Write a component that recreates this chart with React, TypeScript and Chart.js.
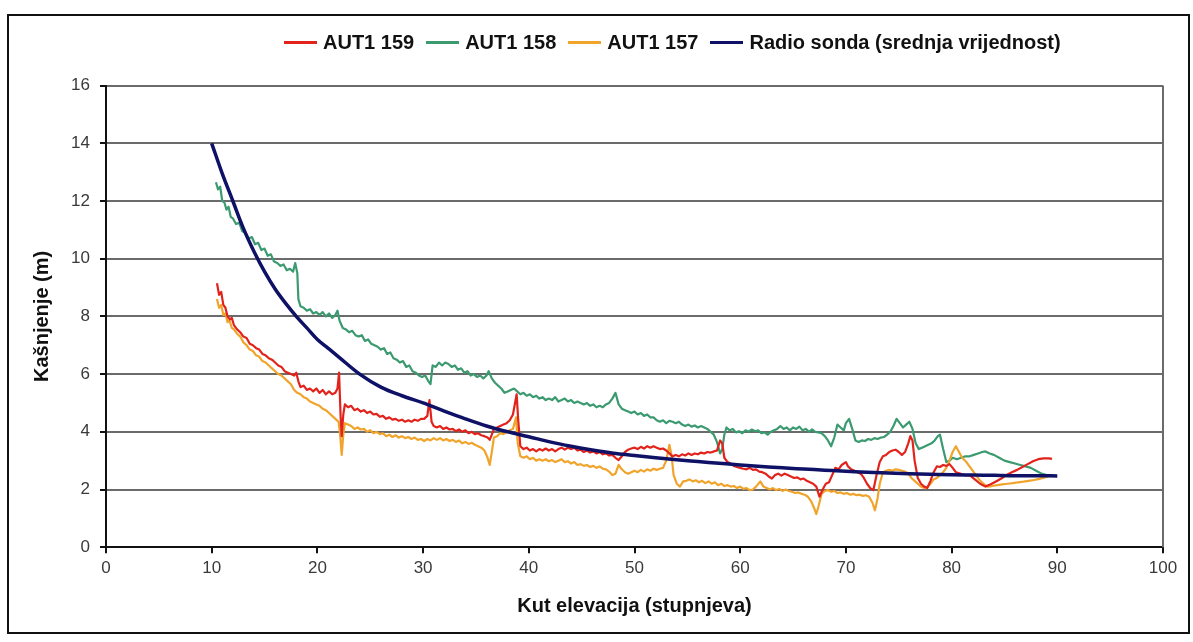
import React, { useEffect, useRef } from "react";
import { Chart, registerables } from "chart.js";

Chart.register(...registerables);

// ---- Data (x = elevation angle in degrees, y = delay in metres) ----
const AUT1_159: [number, number][] = [
  [10.5, 9.15], [10.7, 8.75], [10.9, 8.85], [11.1, 8.4], [11.3, 8.3], [11.5, 8.0], [11.7, 7.9], [11.9, 7.95],
  [12.1, 7.7], [12.4, 7.55], [12.7, 7.45], [13.0, 7.3], [13.3, 7.25], [13.6, 7.05], [13.9, 7.0], [14.2, 6.9],
  [14.5, 6.85], [14.8, 6.7], [15.1, 6.65], [15.4, 6.55], [15.7, 6.5], [16.0, 6.4], [16.3, 6.3], [16.6, 6.25],
  [16.9, 6.1], [17.2, 6.05], [17.5, 6.0], [17.8, 5.95], [18.0, 6.05], [18.2, 5.75], [18.4, 5.55], [18.7, 5.6],
  [19.0, 5.45], [19.3, 5.5], [19.6, 5.4], [19.9, 5.5], [20.2, 5.35], [20.5, 5.45], [20.8, 5.3], [21.1, 5.4],
  [21.4, 5.3], [21.7, 5.35], [21.9, 5.5], [22.05, 6.05], [22.2, 4.5], [22.3, 3.85], [22.45, 4.6], [22.6, 4.95],
  [22.9, 4.85], [23.2, 4.9], [23.5, 4.75], [23.8, 4.8], [24.1, 4.7], [24.4, 4.75], [24.7, 4.65], [25.0, 4.7],
  [25.3, 4.6], [25.6, 4.62], [25.9, 4.52], [26.2, 4.55], [26.5, 4.45], [26.8, 4.5], [27.1, 4.42], [27.4, 4.45],
  [27.7, 4.38], [28.0, 4.42], [28.3, 4.35], [28.6, 4.4], [28.9, 4.35], [29.2, 4.42], [29.5, 4.38], [29.8, 4.45],
  [30.1, 4.45], [30.4, 4.55], [30.6, 5.1], [30.8, 4.35], [31.0, 4.2], [31.3, 4.15], [31.6, 4.2], [31.9, 4.1],
  [32.2, 4.15], [32.5, 4.08], [32.8, 4.1], [33.1, 4.02], [33.4, 4.08], [33.7, 4.0], [34.0, 4.05], [34.3, 3.95],
  [34.6, 4.0], [34.9, 3.92], [35.2, 3.95], [35.5, 3.88], [35.8, 3.85], [36.1, 3.8], [36.3, 3.72], [36.5, 3.9],
  [36.7, 4.1], [37.0, 4.15], [37.3, 4.2], [37.6, 4.25], [37.9, 4.3], [38.2, 4.4], [38.5, 4.6], [38.7, 5.0],
  [38.85, 5.3], [39.0, 4.4], [39.2, 3.5], [39.5, 3.4], [39.8, 3.45], [40.1, 3.35], [40.4, 3.4], [40.7, 3.32],
  [41.0, 3.4], [41.3, 3.35], [41.6, 3.42], [41.9, 3.35], [42.2, 3.4], [42.5, 3.32], [42.8, 3.4], [43.1, 3.45],
  [43.4, 3.38], [43.7, 3.45], [44.0, 3.4], [44.3, 3.45], [44.6, 3.35], [44.9, 3.38], [45.2, 3.3], [45.5, 3.35],
  [45.8, 3.28], [46.1, 3.32], [46.4, 3.25], [46.7, 3.3], [47.0, 3.22], [47.3, 3.25], [47.6, 3.18], [47.9, 3.2],
  [48.2, 3.1], [48.5, 3.02], [48.8, 3.15], [49.1, 3.3], [49.4, 3.38], [49.7, 3.42], [50.0, 3.45], [50.3, 3.4],
  [50.6, 3.48], [50.9, 3.42], [51.2, 3.5], [51.5, 3.45], [51.8, 3.5], [52.1, 3.45], [52.4, 3.4], [52.7, 3.42],
  [53.0, 3.35], [53.3, 3.25], [53.6, 3.15], [53.9, 3.2], [54.2, 3.15], [54.5, 3.22], [54.8, 3.18], [55.1, 3.25],
  [55.4, 3.2], [55.7, 3.25], [56.0, 3.22], [56.3, 3.28], [56.6, 3.25], [56.9, 3.3], [57.2, 3.28], [57.5, 3.32],
  [57.8, 3.35], [58.1, 3.7], [58.3, 3.6], [58.5, 3.1], [58.8, 2.95], [59.1, 2.9], [59.4, 2.82], [59.7, 2.78],
  [60.0, 2.75], [60.3, 2.72], [60.6, 2.7], [60.9, 2.75], [61.2, 2.68], [61.5, 2.7], [61.8, 2.62], [62.1, 2.6],
  [62.4, 2.55], [62.7, 2.45], [63.0, 2.38], [63.3, 2.5], [63.6, 2.55], [63.9, 2.48], [64.2, 2.55], [64.5, 2.5],
  [64.8, 2.45], [65.1, 2.4], [65.4, 2.42], [65.7, 2.35], [66.0, 2.38], [66.3, 2.3], [66.6, 2.25], [66.9, 2.2],
  [67.2, 2.1], [67.5, 1.75], [67.8, 2.0], [68.1, 2.2], [68.4, 2.25], [68.7, 2.5], [69.0, 2.75], [69.3, 2.7],
  [69.6, 2.85], [70.0, 2.95], [70.2, 2.8], [70.5, 2.7], [70.8, 2.65], [71.1, 2.6], [71.4, 2.55], [71.7, 2.4],
  [72.0, 2.2], [72.3, 2.05], [72.6, 1.98], [72.9, 2.5], [73.2, 2.95], [73.5, 3.15], [73.8, 3.2], [74.1, 3.3],
  [74.4, 3.35], [74.7, 3.38], [75.0, 3.3], [75.3, 3.2], [75.6, 3.3], [75.9, 3.6], [76.1, 3.85], [76.3, 3.7],
  [76.5, 3.0], [76.8, 2.4], [77.1, 2.2], [77.4, 2.1], [77.7, 2.05], [78.0, 2.3], [78.3, 2.6], [78.6, 2.8],
  [78.9, 2.78], [79.2, 2.85], [79.5, 2.82], [79.8, 2.88], [80.1, 2.75], [80.4, 2.6], [80.8, 2.55], [81.2, 2.5],
  [81.7, 2.5], [82.2, 2.35], [82.7, 2.2], [83.2, 2.1], [83.7, 2.18], [84.2, 2.28], [84.7, 2.38], [85.2, 2.5],
  [85.7, 2.6], [86.2, 2.68], [86.7, 2.78], [87.2, 2.88], [87.7, 2.98], [88.2, 3.05], [88.7, 3.08], [89.2, 3.08],
  [89.5, 3.06],
];

const AUT1_158: [number, number][] = [
  [10.4, 12.65], [10.6, 12.4], [10.8, 12.5], [11.0, 12.0], [11.2, 11.95], [11.4, 11.7], [11.6, 11.8], [11.8, 11.45],
  [12.0, 11.4], [12.3, 11.2], [12.6, 11.25], [12.9, 10.95], [13.2, 10.9], [13.5, 10.7], [13.8, 10.75], [14.1, 10.5],
  [14.4, 10.55], [14.7, 10.3], [15.0, 10.35], [15.3, 10.1], [15.6, 10.15], [15.9, 9.9], [16.2, 9.85], [16.5, 9.75],
  [16.8, 9.8], [17.1, 9.6], [17.4, 9.65], [17.7, 9.55], [17.9, 9.85], [18.1, 9.5], [18.2, 8.6], [18.4, 8.35],
  [18.7, 8.3], [19.0, 8.2], [19.3, 8.25], [19.6, 8.1], [19.9, 8.15], [20.2, 8.05], [20.5, 8.15], [20.8, 8.0],
  [21.1, 8.1], [21.4, 7.95], [21.7, 8.05], [21.9, 8.2], [22.1, 7.85], [22.4, 7.6], [22.7, 7.55], [23.0, 7.45],
  [23.3, 7.5], [23.6, 7.35], [23.9, 7.3], [24.2, 7.35], [24.5, 7.15], [24.8, 7.2], [25.1, 7.05], [25.4, 7.0],
  [25.7, 6.95], [26.0, 6.85], [26.3, 6.9], [26.6, 6.7], [26.9, 6.75], [27.2, 6.55], [27.5, 6.5], [27.8, 6.4],
  [28.1, 6.45], [28.4, 6.25], [28.7, 6.3], [29.0, 6.1], [29.3, 6.05], [29.6, 5.95], [29.9, 5.9], [30.2, 5.95],
  [30.5, 5.75], [30.7, 5.65], [30.9, 6.3], [31.2, 6.25], [31.5, 6.4], [31.8, 6.3], [32.1, 6.4], [32.4, 6.35],
  [32.7, 6.25], [33.0, 6.3], [33.3, 6.15], [33.6, 6.2], [33.9, 6.05], [34.2, 6.1], [34.5, 5.95], [34.8, 6.0],
  [35.1, 5.9], [35.4, 5.95], [35.7, 5.85], [36.0, 5.95], [36.2, 6.1], [36.5, 5.85], [36.8, 5.7], [37.1, 5.6],
  [37.4, 5.5], [37.7, 5.35], [38.0, 5.4], [38.3, 5.45], [38.6, 5.5], [38.9, 5.4], [39.2, 5.3], [39.5, 5.35],
  [39.8, 5.25], [40.1, 5.3], [40.4, 5.2], [40.7, 5.25], [41.0, 5.15], [41.3, 5.2], [41.6, 5.1], [41.9, 5.15],
  [42.2, 5.1], [42.5, 5.2], [42.8, 5.05], [43.1, 5.1], [43.4, 5.15], [43.7, 5.05], [44.0, 5.1], [44.3, 5.0],
  [44.6, 5.05], [44.9, 5.0], [45.2, 4.95], [45.5, 5.0], [45.8, 4.9], [46.1, 4.95], [46.4, 4.85], [46.7, 4.9],
  [47.0, 4.85], [47.3, 4.95], [47.6, 5.0], [47.9, 5.15], [48.2, 5.35], [48.5, 4.95], [48.8, 4.8], [49.1, 4.75],
  [49.4, 4.7], [49.7, 4.65], [50.0, 4.7], [50.3, 4.6], [50.6, 4.65], [50.9, 4.55], [51.2, 4.6], [51.5, 4.5],
  [51.8, 4.5], [52.1, 4.4], [52.4, 4.35], [52.7, 4.4], [53.0, 4.3], [53.3, 4.38], [53.6, 4.35], [53.9, 4.3],
  [54.2, 4.35], [54.5, 4.25], [54.8, 4.2], [55.1, 4.25], [55.4, 4.18], [55.7, 4.22], [56.0, 4.15], [56.3, 4.2],
  [56.6, 4.15], [56.9, 4.1], [57.2, 4.0], [57.5, 3.9], [57.8, 3.65], [58.1, 3.25], [58.3, 3.4], [58.5, 3.9],
  [58.7, 4.15], [59.0, 4.05], [59.3, 4.1], [59.6, 3.98], [59.9, 4.02], [60.2, 3.95], [60.5, 4.05], [60.8, 4.0],
  [61.1, 4.08], [61.4, 4.02], [61.7, 4.05], [62.0, 3.95], [62.3, 3.98], [62.6, 3.9], [62.9, 4.0], [63.2, 4.05],
  [63.5, 4.1], [63.8, 4.2], [64.1, 4.1], [64.4, 4.15], [64.7, 4.05], [65.0, 4.15], [65.3, 4.1], [65.6, 4.18],
  [65.9, 4.05], [66.2, 4.1], [66.5, 4.0], [66.8, 4.08], [67.1, 4.0], [67.4, 3.98], [67.7, 3.95], [68.0, 3.85],
  [68.3, 3.7], [68.6, 3.5], [68.9, 3.8], [69.2, 4.25], [69.5, 4.15], [69.8, 4.05], [70.0, 4.3], [70.3, 4.45],
  [70.6, 4.1], [70.9, 3.7], [71.2, 3.65], [71.5, 3.7], [71.8, 3.68], [72.1, 3.75], [72.4, 3.72], [72.7, 3.78],
  [73.0, 3.75], [73.3, 3.8], [73.6, 3.82], [73.9, 3.9], [74.2, 4.0], [74.5, 4.2], [74.8, 4.45], [75.1, 4.3],
  [75.4, 4.15], [75.7, 4.25], [76.0, 4.35], [76.3, 4.1], [76.6, 3.6], [76.9, 3.4], [77.2, 3.45], [77.5, 3.5],
  [77.8, 3.55], [78.1, 3.6], [78.4, 3.7], [78.7, 3.85], [78.9, 3.9], [79.2, 3.4], [79.5, 2.95], [79.8, 3.0],
  [80.1, 3.1], [80.5, 3.05], [80.9, 3.1], [81.3, 3.15], [81.7, 3.15], [82.1, 3.2], [82.5, 3.25], [82.9, 3.3],
  [83.2, 3.32], [83.6, 3.25], [84.0, 3.2], [84.5, 3.1], [85.0, 3.0], [85.5, 2.95], [86.0, 2.9], [86.5, 2.85],
  [87.0, 2.8], [87.5, 2.75], [88.0, 2.65], [88.5, 2.55], [89.0, 2.5], [89.5, 2.45],
];

const AUT1_157: [number, number][] = [
  [10.5, 8.6], [10.7, 8.3], [10.9, 8.4], [11.1, 8.05], [11.3, 8.1], [11.5, 7.8], [11.7, 7.85], [11.9, 7.6],
  [12.1, 7.55], [12.4, 7.4], [12.7, 7.3], [13.0, 7.1], [13.3, 7.0], [13.6, 6.85], [13.9, 6.8], [14.2, 6.65],
  [14.5, 6.6], [14.8, 6.45], [15.1, 6.4], [15.4, 6.3], [15.7, 6.2], [16.0, 6.1], [16.3, 6.0], [16.6, 5.95],
  [16.9, 5.85], [17.2, 5.75], [17.5, 5.65], [17.8, 5.45], [18.1, 5.35], [18.4, 5.3], [18.7, 5.2], [19.0, 5.15],
  [19.3, 5.05], [19.6, 5.0], [19.9, 4.95], [20.2, 4.9], [20.5, 4.8], [20.8, 4.75], [21.1, 4.65], [21.4, 4.55],
  [21.7, 4.45], [22.0, 4.35], [22.15, 3.9], [22.3, 3.2], [22.45, 3.9], [22.6, 4.3], [22.9, 4.25], [23.2, 4.2],
  [23.5, 4.1], [23.8, 4.15], [24.1, 4.08], [24.4, 4.1], [24.7, 4.0], [25.0, 4.05], [25.3, 3.95], [25.6, 4.0],
  [25.9, 3.92], [26.2, 3.95], [26.5, 3.85], [26.8, 3.9], [27.1, 3.82], [27.4, 3.88], [27.7, 3.8], [28.0, 3.85],
  [28.3, 3.78], [28.6, 3.82], [28.9, 3.75], [29.2, 3.8], [29.5, 3.72], [29.8, 3.75], [30.1, 3.68], [30.4, 3.75],
  [30.7, 3.7], [31.0, 3.78], [31.3, 3.72], [31.6, 3.78], [31.9, 3.7], [32.2, 3.75], [32.5, 3.68], [32.8, 3.72],
  [33.1, 3.65], [33.4, 3.7], [33.7, 3.6], [34.0, 3.65], [34.3, 3.58], [34.6, 3.62], [34.9, 3.55], [35.2, 3.5],
  [35.5, 3.45], [35.8, 3.35], [36.1, 3.1], [36.3, 2.85], [36.5, 3.3], [36.7, 3.8], [37.0, 3.85], [37.3, 3.95],
  [37.6, 3.92], [37.9, 3.98], [38.2, 4.05], [38.5, 4.1], [38.8, 4.5], [38.95, 3.6], [39.2, 3.15], [39.5, 3.1],
  [39.8, 3.15], [40.1, 3.05], [40.4, 3.1], [40.7, 3.0], [41.0, 3.05], [41.3, 3.0], [41.6, 3.05], [41.9, 2.98],
  [42.2, 3.02], [42.5, 2.95], [42.8, 3.0], [43.1, 3.05], [43.4, 2.95], [43.7, 2.98], [44.0, 2.9], [44.3, 2.95],
  [44.6, 2.85], [44.9, 2.88], [45.2, 2.82], [45.5, 2.85], [45.8, 2.78], [46.1, 2.82], [46.4, 2.75], [46.7, 2.8],
  [47.0, 2.72], [47.3, 2.7], [47.6, 2.62], [47.9, 2.5], [48.2, 2.55], [48.5, 2.85], [48.8, 2.7], [49.1, 2.6],
  [49.4, 2.55], [49.7, 2.6], [50.0, 2.65], [50.3, 2.6], [50.6, 2.68], [50.9, 2.62], [51.2, 2.7], [51.5, 2.65],
  [51.8, 2.72], [52.1, 2.68], [52.4, 2.72], [52.7, 2.75], [53.0, 3.0], [53.3, 3.55], [53.5, 3.2], [53.7, 2.5],
  [54.0, 2.2], [54.3, 2.1], [54.6, 2.28], [54.9, 2.3], [55.2, 2.35], [55.5, 2.28], [55.8, 2.32], [56.1, 2.25],
  [56.4, 2.3], [56.7, 2.22], [57.0, 2.28], [57.3, 2.2], [57.6, 2.25], [57.9, 2.15], [58.2, 2.2], [58.5, 2.12],
  [58.8, 2.15], [59.1, 2.1], [59.4, 2.12], [59.7, 2.05], [60.0, 2.1], [60.3, 2.02], [60.6, 2.05], [60.9, 1.98],
  [61.2, 2.0], [61.5, 2.1], [61.9, 2.28], [62.2, 2.1], [62.5, 2.05], [62.8, 2.0], [63.1, 2.05], [63.4, 1.98],
  [63.7, 2.02], [64.0, 1.95], [64.3, 2.0], [64.6, 1.95], [64.9, 1.92], [65.2, 1.88], [65.5, 1.9], [65.8, 1.85],
  [66.1, 1.82], [66.4, 1.75], [66.7, 1.6], [67.0, 1.35], [67.2, 1.15], [67.4, 1.4], [67.7, 1.85], [68.0, 1.95],
  [68.3, 1.98], [68.6, 1.92], [68.9, 1.95], [69.2, 1.88], [69.5, 1.9], [69.8, 1.85], [70.1, 1.88], [70.4, 1.82],
  [70.7, 1.85], [71.0, 1.8], [71.3, 1.82], [71.6, 1.78], [71.9, 1.8], [72.2, 1.75], [72.5, 1.55], [72.75, 1.28],
  [73.0, 1.7], [73.2, 2.2], [73.5, 2.6], [73.8, 2.65], [74.1, 2.68], [74.4, 2.65], [74.7, 2.7], [75.0, 2.68],
  [75.3, 2.65], [75.6, 2.62], [75.9, 2.55], [76.2, 2.4], [76.5, 2.3], [76.8, 2.2], [77.1, 2.1], [77.4, 2.05],
  [77.7, 2.08], [78.0, 2.2], [78.3, 2.35], [78.6, 2.4], [78.9, 2.5], [79.2, 2.6], [79.5, 2.75], [79.8, 3.0],
  [80.1, 3.3], [80.4, 3.5], [80.7, 3.3], [81.0, 3.1], [81.4, 2.95], [81.8, 2.75], [82.2, 2.55], [82.6, 2.35],
  [83.0, 2.2], [83.4, 2.1], [83.8, 2.12], [84.3, 2.15], [84.8, 2.18], [85.3, 2.2], [85.8, 2.22], [86.3, 2.25],
  [86.8, 2.27], [87.3, 2.3], [87.8, 2.33], [88.3, 2.37], [88.8, 2.42], [89.3, 2.47], [89.6, 2.5],
];

const RADIO_SONDA: [number, number][] = [
  [10, 14.0], [11, 12.95], [12, 12.0], [13, 11.05], [14, 10.25], [15, 9.55], [16, 8.95], [17, 8.45],
  [18, 8.0], [19, 7.6], [20, 7.2], [21, 6.9], [22, 6.6], [24, 6.0], [26, 5.55], [28, 5.25], [30, 5.0],
  [32, 4.72], [34, 4.45], [36, 4.2], [38, 4.0], [40, 3.83], [42, 3.65], [44, 3.5], [46, 3.37], [48, 3.26],
  [50, 3.18], [52, 3.1], [54, 3.03], [56, 2.97], [58, 2.91], [60, 2.85], [62, 2.8], [64, 2.75], [66, 2.71],
  [68, 2.67], [70, 2.63], [72, 2.6], [74, 2.57], [76, 2.55], [78, 2.53], [80, 2.51], [82, 2.5], [84, 2.49],
  [86, 2.48], [88, 2.48], [90, 2.47],
];

const SERIES_LABELS = ["AUT1 159", "AUT1 158", "AUT1 157", "Radio sonda (srednja vrijednost)"];
const SERIES_COLORS = ["#e2231c", "#3b9a70", "#f1a42b", "#0e1165"];
const X_MIN = 0, X_MAX = 100, X_STEP = 10;
const Y_MIN = 0, Y_MAX = 16, Y_STEP = 2;
const X_TITLE = "Kut elevacija (stupnjeva)";
const Y_TITLE = "Kašnjenje (m)";

const FONT = '"Liberation Sans", Arial, sans-serif';

const toXY = (arr: [number, number][]) => arr.map(([x, y]) => ({ x, y }));

const plotFrame = {
  id: "plotFrame",
  beforeDatasetsDraw(chart: any) {
    const { ctx, chartArea } = chart;
    ctx.save();
    ctx.strokeStyle = "#6b6b6b";
    ctx.lineWidth = 2;
    ctx.beginPath();
    ctx.moveTo(chartArea.right, chartArea.top);
    ctx.lineTo(chartArea.right, chartArea.bottom);
    ctx.stroke();
    ctx.restore();
  },
};

export default function App() {
  const canvasRef = useRef<HTMLCanvasElement | null>(null);

  useEffect(() => {
    if (!canvasRef.current) return;
    const seriesData = [AUT1_159, AUT1_158, AUT1_157, RADIO_SONDA];
    const chart = new Chart(canvasRef.current, {
      type: "line",
      data: {
        datasets: seriesData.map((s, i) => ({
          label: SERIES_LABELS[i],
          data: toXY(s),
          borderColor: SERIES_COLORS[i],
          backgroundColor: SERIES_COLORS[i],
          borderWidth: i === 3 ? 3.5 : 2.2,
          borderJoinStyle: "round",
          pointRadius: 0,
          tension: i === 3 ? 0.4 : 0,
          cubicInterpolationMode: i === 3 ? "monotone" : "default",
          order: i === 3 ? 0 : i === 0 ? 1 : i === 2 ? 2 : 3,
          fill: false,
        })) as any,
      },
      options: {
        animation: false,
        responsive: true,
        maintainAspectRatio: false,
        layout: { padding: { left: 20, top: 85.6, right: 30, bottom: 0 } },
        plugins: {
          legend: { display: false },
          tooltip: { enabled: false },
        },
        scales: {
          x: {
            type: "linear",
            min: X_MIN,
            max: X_MAX,
            ticks: { stepSize: X_STEP, color: "#3a3a3a", font: { family: FONT, size: 17 }, padding: 5, maxRotation: 0 },
            grid: { drawOnChartArea: false, drawTicks: true, tickLength: 6, tickColor: "#111", lineWidth: 2 },
            border: { display: true, color: "#111", width: 2 },
            title: {
              display: true,
              text: X_TITLE,
              color: "#111",
              font: { family: FONT, size: 20, weight: "bold" },
              padding: { top: 0, bottom: 24 },
            },
            afterFit: (s: any) => { s.height = 642 - 547.2; },
          },
          y: {
            type: "linear",
            min: Y_MIN,
            max: Y_MAX,
            ticks: { stepSize: Y_STEP, color: "#3a3a3a", font: { family: FONT, size: 17 }, padding: 10 },
            grid: { color: "#6b6b6b", lineWidth: 2, drawTicks: true, tickLength: 6, tickColor: "#111" },
            border: { display: true, color: "#111", width: 2 },
            title: {
              display: true,
              text: Y_TITLE,
              color: "#111",
              font: { family: FONT, size: 20, weight: "bold" },
              padding: { top: 10, bottom: 0 },
            },
            afterFit: (s: any) => { s.width = 86; },
          },
        },
      },
      plugins: [plotFrame],
    });
    return () => chart.destroy();
  }, []);

  return (
    <div style={{ position: "fixed", left: 0, top: 0, width: 1193, height: 642, background: "#fff", overflow: "hidden" }}>
      <div
        style={{
          position: "absolute",
          left: 7,
          top: 14,
          width: 1183,
          height: 620,
          border: "2px solid #111",
          boxSizing: "border-box",
        }}
      />
      <div style={{ position: "absolute", left: 0, top: 0, width: 1193, height: 642 }}>
        <canvas ref={canvasRef} />
      </div>
      <div
        style={{
          position: "absolute",
          left: 284,
          top: 30,
          height: 24,
          display: "flex",
          alignItems: "center",
          fontFamily: FONT,
          fontWeight: "bold",
          fontSize: 20,
          color: "#111",
          whiteSpace: "nowrap",
        }}
      >
        {SERIES_LABELS.map((label, i) => (
          <div key={label} style={{ display: "flex", alignItems: "center", marginRight: 12 }}>
            <span style={{ display: "inline-block", width: 33, height: 3, background: SERIES_COLORS[i], marginRight: 6 }} />
            <span>{label}</span>
          </div>
        ))}
      </div>
    </div>
  );
}
